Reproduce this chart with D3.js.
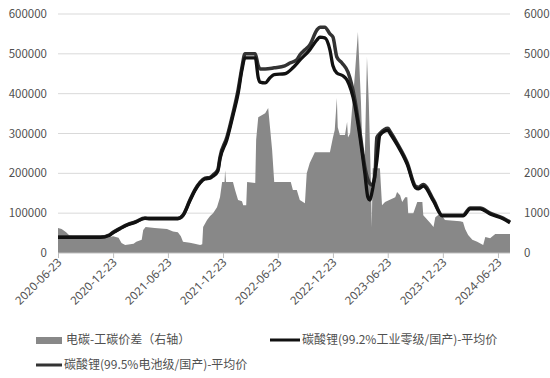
<!DOCTYPE html>
<html>
<head>
<meta charset="utf-8">
<script src="https://cdn.jsdelivr.net/npm/d3@7"></script>
<style>
  body { margin: 0; background: #fff; }
  svg { display: block; font-family: "Noto Sans CJK SC", "Noto Sans", sans-serif; }
</style>
</head>
<body>
<div id="app"></div>
<script>
// spread between battery grade and industrial grade (right axis)
const spreadDates = ['2020-06-23','2020-07-05','2020-07-20','2020-08-01','2020-10-01','2020-12-01','2020-12-23','2021-01-10','2021-01-20','2021-02-01','2021-03-01','2021-03-10','2021-03-28','2021-04-02','2021-04-10','2021-05-10','2021-06-20','2021-07-10','2021-07-26','2021-08-05','2021-08-12','2021-09-04','2021-09-20','2021-10-08','2021-10-15','2021-10-18','2021-10-31','2021-11-10','2021-11-20','2021-12-03','2021-12-13','2021-12-20','2021-12-28','2021-12-30','2022-01-02','2022-01-25','2022-02-01','2022-02-11','2022-02-24','2022-02-28','2022-03-10','2022-03-13','2022-04-09','2022-04-12','2022-04-19','2022-05-12','2022-05-22','2022-05-28','2022-06-04','2022-06-11','2022-08-05','2022-08-12','2022-08-25','2022-09-04','2022-09-21','2022-09-27','2022-10-07','2022-10-24','2022-12-13','2022-12-23','2022-12-29','2023-01-05','2023-01-08','2023-01-15','2023-02-01','2023-02-08','2023-02-11','2023-02-18','2023-03-06','2023-03-16','2023-03-26','2023-04-01','2023-04-08','2023-04-15','2023-04-21','2023-04-28','2023-05-01','2023-05-04','2023-05-28','2023-06-04','2023-06-14','2023-07-18','2023-07-24','2023-08-03','2023-08-10','2023-08-20','2023-08-27','2023-08-30','2023-09-16','2023-09-29','2023-10-16','2023-10-19','2023-11-12','2023-11-22','2023-11-28','2023-12-15','2023-12-30','2024-02-18','2024-02-28','2024-03-06','2024-03-16','2024-03-30','2024-04-15','2024-05-05','2024-05-12','2024-05-28','2024-06-14','2024-08-02']
const spreadValues = [630,600,520,430,400,380,420,380,250,200,230,280,330,580,650,630,600,540,520,420,280,260,230,200,220,650,830,930,1000,1150,1400,1780,1780,2080,1780,1780,1580,1330,1300,1200,1200,1780,1760,2840,3410,3510,3640,3160,2590,1780,1780,1580,1580,1330,1250,2000,2260,2530,2530,2900,3090,3890,3160,2960,2960,3290,2900,3000,4500,5550,3800,2400,2500,4920,3800,1800,650,2130,2130,1200,1280,1400,1530,1450,1280,1400,1400,1000,1000,1280,1280,950,750,650,900,1000,830,800,780,600,450,330,280,200,400,370,480,480]

// battery grade 99.5% (left axis)
const batteryDates = ['2020-06-23','2020-11-10','2020-12-10','2020-12-23','2021-01-15','2021-02-10','2021-03-06','2021-04-08','2021-04-25','2021-07-26','2021-08-12','2021-09-04','2021-09-20','2021-10-08','2021-10-24','2021-11-10','2021-11-20','2021-12-06','2021-12-13','2022-01-05','2022-01-25','2022-02-11','2022-02-24','2022-03-06','2022-04-09','2022-04-19','2022-04-25','2022-05-12','2022-06-11','2022-07-16','2022-08-02','2022-08-25','2022-09-04','2022-09-21','2022-10-07','2022-10-31','2022-11-10','2022-11-26','2022-12-13','2022-12-23','2023-01-05','2023-01-22','2023-02-11','2023-03-06','2023-03-23','2023-04-08','2023-04-18','2023-05-01','2023-05-11','2023-05-18','2023-05-28','2023-06-24','2023-07-01','2023-07-24','2023-08-27','2023-09-23','2023-10-03','2023-10-19','2023-11-22','2023-12-21','2024-02-28','2024-03-23','2024-04-25','2024-05-28','2024-07-10','2024-08-02']
const batteryValues = [40000,40000,45000,52000,62000,72000,78000,88000,87000,87000,95000,133000,158000,178000,188000,190000,196000,210000,241000,291000,351000,409000,467000,500000,500000,470000,462000,462000,465000,470000,477000,485000,497000,510000,522000,560000,567000,567000,550000,542000,492000,477000,454000,384000,301000,216000,185000,171000,190000,290000,300000,313000,305000,276000,226000,168000,165000,172000,133000,95000,95000,113000,113000,100000,88000,78000]

// industrial grade 99.2% (left axis)
const industrialDates = ['2020-06-23','2020-11-10','2020-12-10','2020-12-23','2021-01-15','2021-02-10','2021-03-06','2021-04-08','2021-04-25','2021-07-26','2021-08-12','2021-09-04','2021-09-20','2021-10-08','2021-10-24','2021-11-10','2021-11-20','2021-12-06','2021-12-13','2022-01-05','2022-01-25','2022-02-11','2022-02-24','2022-03-06','2022-04-09','2022-04-19','2022-04-25','2022-05-12','2022-05-28','2022-06-11','2022-07-16','2022-08-12','2022-09-04','2022-10-07','2022-10-31','2022-11-10','2022-11-26','2022-12-13','2022-12-23','2023-01-05','2023-01-25','2023-02-08','2023-03-06','2023-03-23','2023-04-08','2023-04-18','2023-04-25','2023-05-01','2023-05-18','2023-05-28','2023-06-24','2023-07-01','2023-07-24','2023-08-27','2023-09-23','2023-10-03','2023-10-19','2023-11-22','2023-12-21','2024-02-28','2024-03-23','2024-04-25','2024-05-28','2024-07-10','2024-08-02']
const industrialValues = [39000,39000,44000,51000,61000,71000,77000,87000,86000,86000,94000,131000,156000,176000,186000,188000,193000,206000,236000,285000,345000,400000,460000,490000,490000,440000,429000,427000,440000,448000,450000,465000,484000,510000,535000,542000,540000,510000,470000,452000,445000,434000,370000,290000,200000,140000,133000,150000,233000,296000,308000,300000,272000,222000,164000,161000,168000,130000,93000,93000,111000,111000,98000,86000,76000]

const tickDates = ['2020-06-23','2020-12-23','2021-06-23','2021-12-23','2022-06-23','2022-12-23','2023-06-23','2023-12-23','2024-06-23']
const leftTicks = [0,100000,200000,300000,400000,500000,600000]
const rightTicks = [0,1000,2000,3000,4000,5000,6000]

const parse = d3.timeParse('%Y-%m-%d')
const spread = spreadDates.map((d, i) => ({ date: parse(d), value: spreadValues[i] }))
const battery = batteryDates.map((d, i) => ({ date: parse(d), value: batteryValues[i] }))
const industrial = industrialDates.map((d, i) => ({ date: parse(d), value: industrialValues[i] }))

const W = 550, H = 378
const mLeft = 58, mRight = 510, mTop = 14, mBottom = 253

const svg = d3.select('#app').append('svg').attr('width', W).attr('height', H)

const x = d3.scaleTime().domain([parse('2020-06-23'), parse('2024-08-02')]).range([mLeft, mRight])
const yL = d3.scaleLinear().domain([0, 600000]).range([mBottom, mTop])
const yR = d3.scaleLinear().domain([0, 6000]).range([mBottom, mTop])

// gridlines
svg.append('g').selectAll('line').data(leftTicks.slice(1)).join('line')
  .attr('x1', mLeft).attr('x2', mRight)
  .attr('y1', d => yL(d)).attr('y2', d => yL(d))
  .attr('stroke', '#d9d9d9').attr('stroke-width', 1)

// left axis labels
svg.append('g').selectAll('text').data(leftTicks).join('text')
  .attr('x', 47).attr('y', d => yL(d)).attr('dy', '0.35em')
  .attr('text-anchor', 'end').attr('font-size', 11.5).attr('fill', '#505050')
  .text(d => d)

// right axis labels
svg.append('g').selectAll('text').data(rightTicks).join('text')
  .attr('x', 524).attr('y', d => yR(d)).attr('dy', '0.35em')
  .attr('text-anchor', 'start').attr('font-size', 11.5).attr('fill', '#505050')
  .text(d => d)

// spread area
const area = d3.area().x(d => x(d.date)).y0(yR(0)).y1(d => yR(d.value))
svg.append('path').datum(spread).attr('d', area).attr('fill', '#888')

// price lines
const lineL = d3.line().x(d => x(d.date)).y(d => yL(d.value)).curve(d3.curveMonotoneX)
svg.append('path').datum(battery).attr('d', lineL)
  .attr('fill', 'none').attr('stroke', '#333').attr('stroke-width', 3.5).attr('stroke-linejoin', 'round')
svg.append('path').datum(industrial).attr('d', lineL)
  .attr('fill', 'none').attr('stroke', '#111').attr('stroke-width', 3.3).attr('stroke-linejoin', 'round')

// x axis
const xAxis = d3.axisBottom(x).tickValues(tickDates.map(parse)).tickSize(5).tickFormat(d3.timeFormat('%Y-%m-%d'))
const gx = svg.append('g').attr('transform', `translate(0,${mBottom})`).call(xAxis)
gx.select('.domain').attr('d', `M${mLeft},0H${mRight}`).attr('stroke', '#bfbfbf')
gx.selectAll('.tick line').attr('stroke', '#bfbfbf')
gx.selectAll('.tick text')
  .attr('font-family', '"Noto Sans", sans-serif').attr('font-size', 11.5).attr('fill', '#505050')
  .attr('text-anchor', 'end').attr('dy', 0).attr('y', 0)
  .attr('transform', 'translate(4,10) rotate(-45)')

// legend
const lg = svg.append('g').attr('font-size', 12).attr('fill', '#505050')
lg.append('rect').attr('x', 36).attr('y', 337).attr('width', 26).attr('height', 7).attr('fill', '#888')
lg.append('text').attr('x', 66).attr('y', 340).attr('dy', '0.35em').text('电碳-工碳价差（右轴）')
lg.append('line').attr('x1', 270).attr('x2', 300).attr('y1', 340).attr('y2', 340).attr('stroke', '#111').attr('stroke-width', 3)
lg.append('text').attr('x', 302).attr('y', 340).attr('dy', '0.35em').text('碳酸锂(99.2%工业零级/国产)-平均价')
lg.append('line').attr('x1', 36).attr('x2', 62).attr('y1', 365).attr('y2', 365).attr('stroke', '#333').attr('stroke-width', 3)
lg.append('text').attr('x', 64).attr('y', 365).attr('dy', '0.35em').text('碳酸锂(99.5%电池级/国产)-平均价')
</script>
</body>
</html>
